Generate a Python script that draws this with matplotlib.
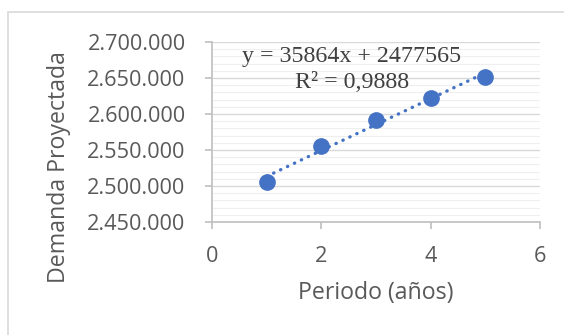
import matplotlib
matplotlib.use("Agg")
from matplotlib import pyplot as plt
from matplotlib.patches import Rectangle
from matplotlib.ticker import MultipleLocator, FuncFormatter
import numpy as np

# data
periods = [1, 2, 3, 4, 5]
demand = [2506000, 2555000, 2591000, 2622500, 2652000]
x_ticks = [0, 2, 4, 6]
y_ticks = [2450000, 2500000, 2550000, 2600000, 2650000, 2700000]
equation_text = "y = 35864x + 2477565"
r2_text = "R² = 0,9888"

grey_text = "#595959"
axis_grey = "#bfbfbf"
blue = "#4472C4"

fig = plt.figure(figsize=(5.64, 3.35), dpi=100)
ax = fig.add_axes([212 / 564, 1 - 222 / 335, 328 / 564, 180 / 335])

# outer chart frame (cut off at right and bottom)
fig.patches.append(Rectangle((8 / 564, -0.1), 1.2, 1 - 12 / 335 + 0.1,
                             transform=fig.transFigure, fill=False,
                             edgecolor="#d9d9d9", linewidth=1.2))

# grid lines
ax.set_axisbelow(True)
ax.yaxis.set_minor_locator(MultipleLocator(10000))
ax.grid(axis="y", which="major", color="#d9d9d9", linewidth=1.0)
ax.grid(axis="y", which="minor", color="#efefef", linewidth=0.8)
ax.tick_params(axis="y", which="minor", length=0)

# trendline from least squares
slope, intercept = np.polyfit(periods, demand, 1)
xs = np.array([periods[0], periods[-1]])
ax.plot(xs, slope * xs + intercept, linestyle=(0, (0.1, 2.2)), color=blue,
        linewidth=2.4, dash_capstyle="round", zorder=2)

ax.plot(periods, demand, "o", color=blue, markersize=11, zorder=3)

ax.set_xlim(0, 6)
ax.set_ylim(2450000, 2700000)
ax.set_xticks(x_ticks)
ax.set_yticks(y_ticks)
ax.yaxis.set_major_formatter(FuncFormatter(lambda v, p: f"{int(v):,}".replace(",", ".")))

for side in ["top", "right"]:
    ax.spines[side].set_visible(False)
for side in ["left", "bottom"]:
    ax.spines[side].set_color(axis_grey)
    ax.spines[side].set_linewidth(1.2)

ax.tick_params(axis="both", which="major", color=axis_grey, width=1.2, length=5,
               labelcolor=grey_text, labelsize=15.6)
ax.tick_params(axis="x", pad=12)
ax.tick_params(axis="y", pad=14)
for lab in ax.get_xticklabels() + ax.get_yticklabels():
    lab.set_family("Open Sans")

# axis titles
fig.text(376 / 564, 1 - 293 / 335, "Periodo (años)", family="Open Sans",
         fontsize=16.7, color=grey_text, ha="center", va="center")
fig.text(59 / 564, 1 - 167 / 335, "Demanda Proyectada", family="Open Sans",
         fontsize=16.7, color=grey_text, ha="center", va="center", rotation=90)

# trendline equation
ax.text(0.427, 0.917, equation_text, transform=ax.transAxes, family="Liberation Serif",
        fontsize=17.3, color="#404040", ha="center", va="center")
ax.text(0.427, 0.775, r2_text, transform=ax.transAxes, family="Liberation Serif",
        fontsize=17.3, color="#404040", ha="center", va="center")

fig.savefig("out.png", dpi=100, facecolor="white")
